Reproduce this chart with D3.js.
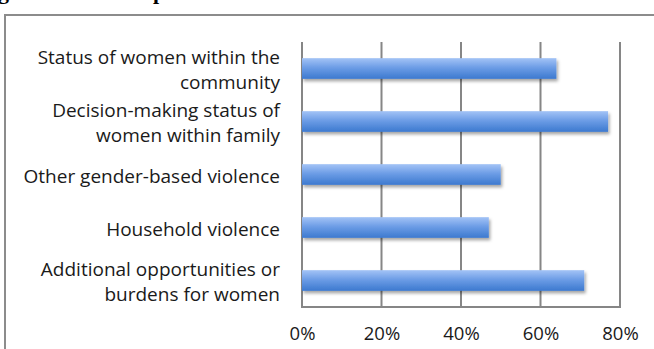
<!DOCTYPE html>
<html>
<head>
<meta charset="utf-8">
<script src="https://cdn.jsdelivr.net/npm/d3@7"></script>
<style>
  html, body { margin: 0; padding: 0; background: #fff; }
  svg { display: block; }
</style>
</head>
<body>
<svg id="chart" width="654" height="349"></svg>
<script>
// Categories, top to bottom
const categories = [
  ["Status of women within the", "community"],
  ["Decision-making status of", "women within family"],
  ["Other gender-based violence"],
  ["Household violence"],
  ["Additional opportunities or", "burdens for women"]
];
// Share of respondents (%)
const values = [64, 77, 50, 47, 71];
// Axis ticks
const tickValues = [0, 20, 40, 60, 80];
const tickLabels = ["0%", "20%", "40%", "60%", "80%"];

const svg = d3.select("#chart");
const plot = { left: 302, right: 620, top: 42, bottom: 307 };
const font = "'Open Sans', 'Liberation Sans', sans-serif";

const defs = svg.append("defs");
const grad = defs.append("linearGradient")
  .attr("id", "barGrad").attr("x1", 0).attr("y1", 0).attr("x2", 0).attr("y2", 1);
grad.append("stop").attr("offset", "0%").attr("stop-color", "#a3c3f6");
grad.append("stop").attr("offset", "45%").attr("stop-color", "#6d9de6");
grad.append("stop").attr("offset", "100%").attr("stop-color", "#3c79cf");

const shadow = defs.append("filter").attr("id", "barShadow")
  .attr("x", "-5%").attr("y", "-30%").attr("width", "115%").attr("height", "190%");
shadow.append("feDropShadow")
  .attr("dx", 1.5).attr("dy", 2.5).attr("stdDeviation", 1.6)
  .attr("flood-color", "#000").attr("flood-opacity", 0.35);

// Section heading above the frame, mostly above the visible area
svg.append("text")
  .attr("x", -2).attr("y", -1)
  .attr("font-family", "'Liberation Serif', 'DejaVu Serif', serif")
  .attr("font-weight", "bold").attr("font-size", 22)
  .attr("fill", "#000")
  .text("gender-based impacts");

// Outer chart frame
svg.append("rect")
  .attr("x", 5).attr("y", 15).attr("width", 660).attr("height", 360)
  .attr("fill", "#fff").attr("stroke", "#8c8c8c").attr("stroke-width", 2);

const x = d3.scaleLinear().domain([0, 80]).range([plot.left, plot.right]);
const y = d3.scaleBand()
  .domain(d3.range(categories.length))
  .range([plot.top, plot.bottom])
  .paddingInner(0.61).paddingOuter(0.305);

// Vertical gridlines
svg.append("g").selectAll("line")
  .data(tickValues)
  .join("line")
  .attr("x1", d => x(d)).attr("x2", d => x(d))
  .attr("y1", plot.top).attr("y2", plot.bottom)
  .attr("stroke", "#868686").attr("stroke-width", 2);

// Bottom axis line
svg.append("line")
  .attr("x1", plot.left - 1).attr("x2", plot.right + 1)
  .attr("y1", plot.bottom).attr("y2", plot.bottom)
  .attr("stroke", "#868686").attr("stroke-width", 2);

// Bars
svg.append("g").selectAll("rect")
  .data(values)
  .join("rect")
  .attr("x", x(0))
  .attr("y", (d, i) => y(i))
  .attr("width", d => x(d) - x(0))
  .attr("height", y.bandwidth())
  .attr("fill", "url(#barGrad)")
  .attr("filter", "url(#barShadow)");

// Tick labels
const xAxis = d3.axisBottom(x)
  .tickValues(tickValues)
  .tickFormat((d, i) => tickLabels[i])
  .tickSize(0).tickPadding(0);
const gx = svg.append("g")
  .attr("transform", `translate(0,${plot.bottom + 32.5})`)
  .call(xAxis);
gx.select(".domain").remove();
gx.selectAll("text")
  .attr("dy", 0)
  .attr("font-family", font).attr("font-size", 18.5)
  .attr("fill", "#1a1a1a");

// Category labels
const lineH = 24.5;
const lab = svg.append("g").selectAll("text")
  .data(categories)
  .join("text")
  .attr("text-anchor", "end")
  .attr("font-family", font).attr("font-size", 19)
  .attr("fill", "#1a1a1a");
lab.each(function(lines, i) {
  const cy = y(i) + y.bandwidth() / 2 + (lines.length > 1 ? 1.5 : 2);
  const first = cy - (lines.length - 1) * lineH / 2;
  d3.select(this).selectAll("tspan")
    .data(lines)
    .join("tspan")
    .attr("x", 280)
    .attr("y", (l, j) => first + j * lineH)
    .attr("dy", "0.35em")
    .text(l => l);
});
</script>
</body>
</html>
